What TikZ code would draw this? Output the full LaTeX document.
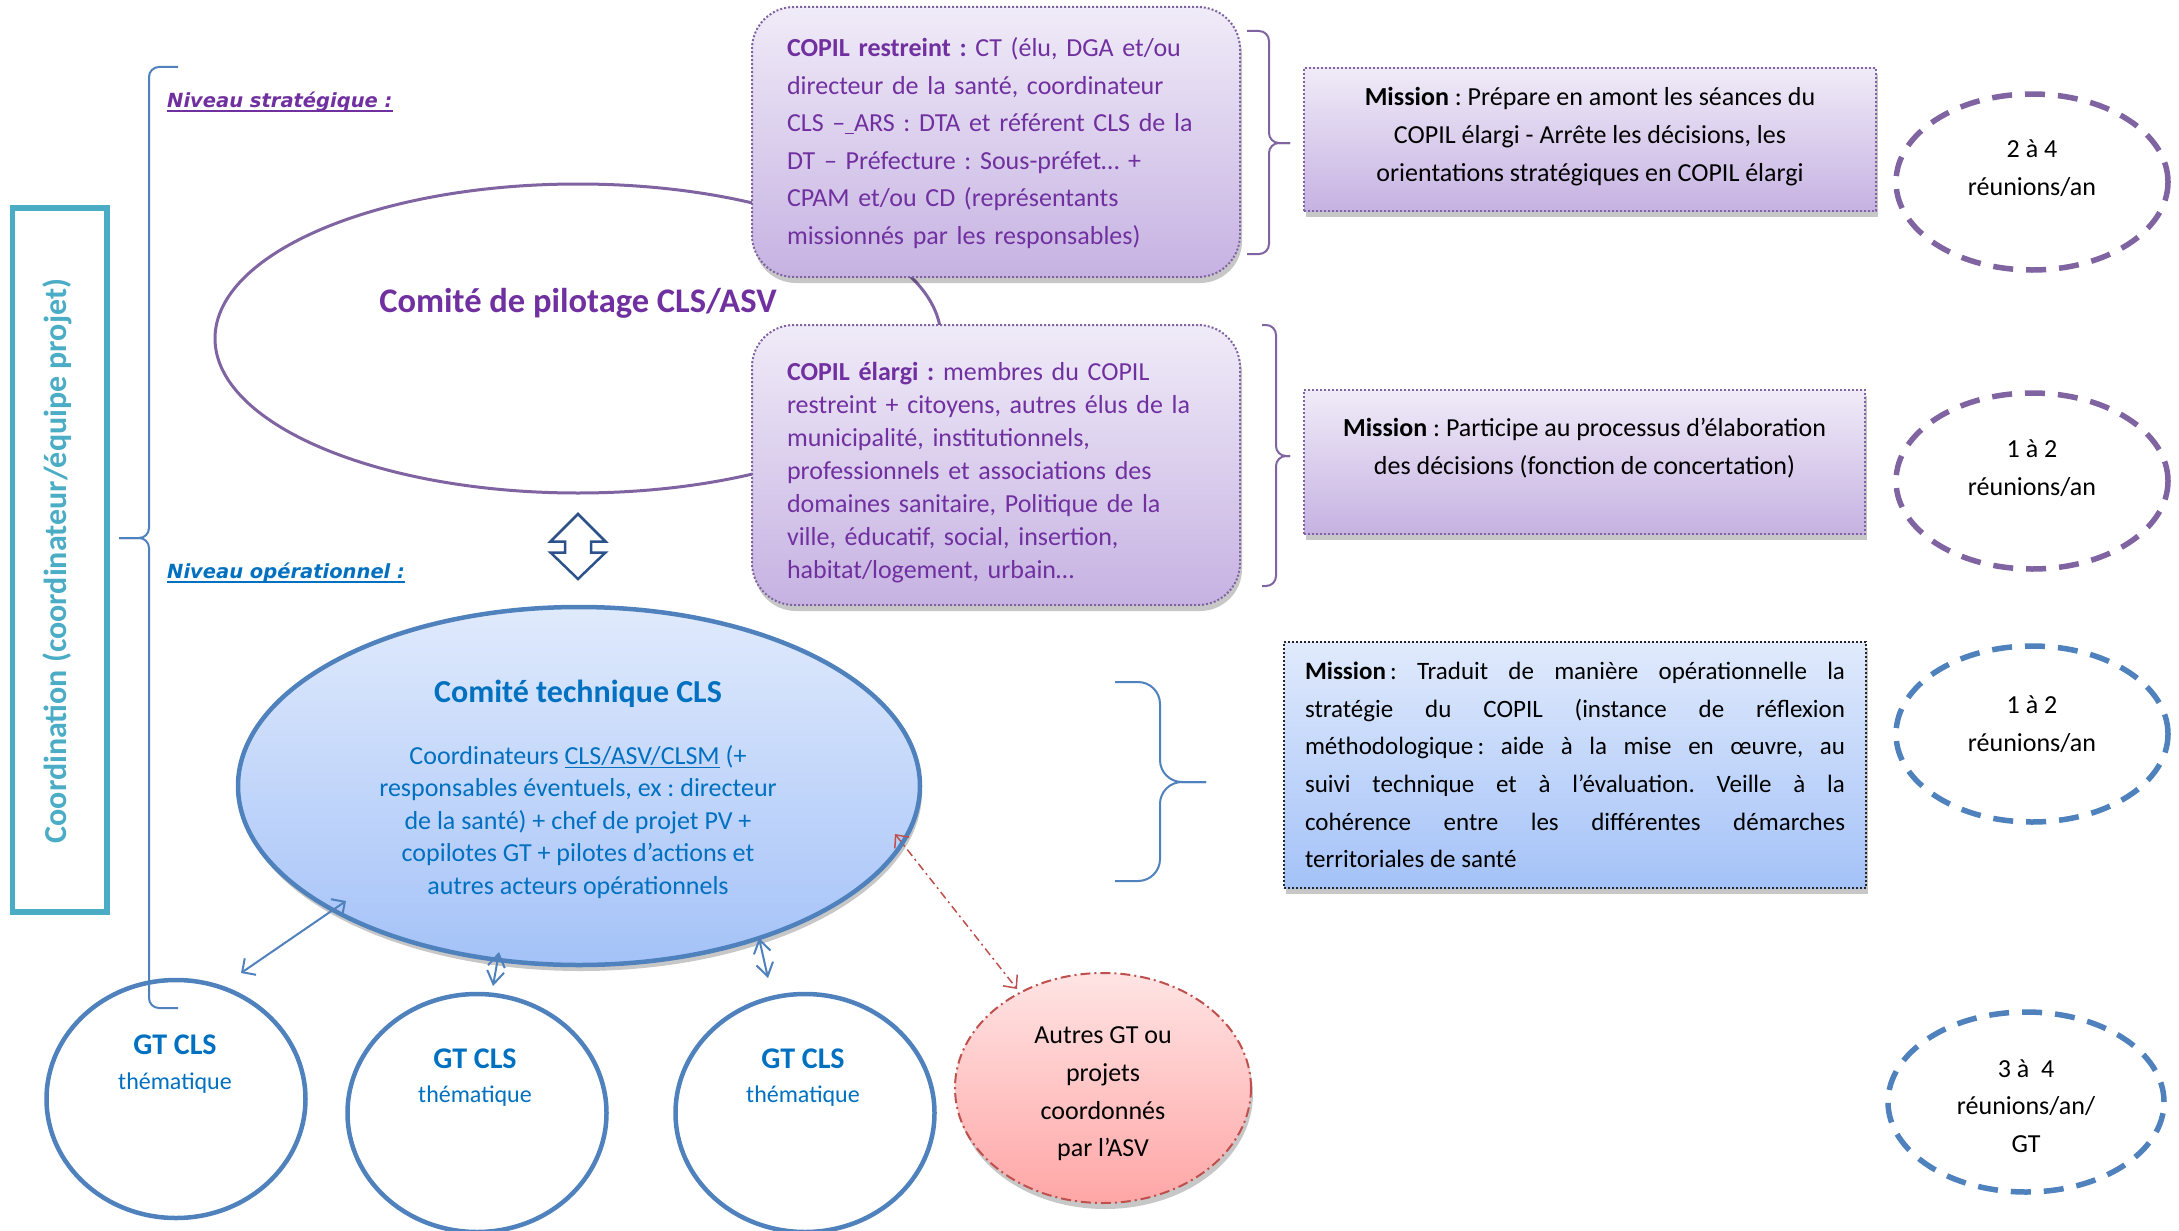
\documentclass[tikz,border=0pt]{standalone}
\usepackage{fontspec}
\setmainfont{Carlito}
\newfontfamily\verd{DejaVu Sans}
\usetikzlibrary{shapes.geometric,arrows.meta,shadows,calc}
\definecolor{ptxt}{HTML}{7030A0}
\definecolor{pline}{HTML}{8064A2}
\definecolor{bline}{HTML}{4F81BD}
\definecolor{udline}{RGB}{44,82,140}
\definecolor{btxt}{HTML}{0070C0}
\definecolor{coordteal}{HTML}{4BACC6}
\definecolor{rline}{HTML}{C0504D}
\definecolor{lavtop}{RGB}{240,235,248}
\definecolor{lavbot}{RGB}{198,178,226}
\definecolor{bluetop}{RGB}{224,234,252}
\definecolor{bluebot}{RGB}{164,194,248}
\definecolor{pinktop}{RGB}{255,228,228}
\definecolor{pinkbot}{RGB}{255,166,166}
\frenchspacing
\tikzset{
  shadowed/.style={drop shadow={shadow xshift=2pt,shadow yshift=-6pt,opacity=0.22,fill=black}},
  copbox/.style={rectangle, rounded corners=42pt, draw=pline, line width=2pt,
    dash pattern=on 2pt off 2pt, top color=lavtop, bottom color=lavbot, shadowed,
    inner sep=0pt, minimum width=488pt},
  coptxt/.style={text=ptxt, align=left, text width=418pt, inner sep=0pt,
    font=\fontsize{26pt}{37.5pt}\selectfont},
  misbox/.style={rectangle, draw=pline, line width=2pt, dash pattern=on 2pt off 2pt,
    top color=lavtop, bottom color=lavbot, shadowed, inner sep=0pt},
  mistxt/.style={align=center, inner sep=0pt, font=\fontsize{26pt}{38pt}\selectfont},
  freq/.style={ellipse, line width=5.5pt, dash pattern=on 20pt off 13pt, inner sep=0pt,
    minimum width=272pt, minimum height=176pt},
  freqtxt/.style={align=center, font=\fontsize{26pt}{37.5pt}\selectfont},
  gt/.style={ellipse, draw=bline, line width=4.5pt, inner sep=0pt, minimum width=259pt, minimum height=238pt},
  gttitle/.style={text=btxt, font=\fontsize{30pt}{36pt}\selectfont\bfseries},
  gtsub/.style={text=btxt, font=\fontsize{24pt}{30pt}\selectfont},
  brace/.style={line width=2pt, rounded corners=10pt},
  bidir/.style={bline, line width=2pt, {Straight Barb[length=10pt,width=20pt]}-{Straight Barb[length=10pt,width=20pt]}},
  bidirs/.style={bline, line width=2pt, {Straight Barb[length=13pt,width=17pt]}-{Straight Barb[length=13pt,width=17pt]}},
  niv/.style={inner sep=0pt, anchor=base west, font=\verd\bfseries\itshape\fontsize{19.5pt}{24pt}\selectfont}
}
\begin{document}
\begin{tikzpicture}[x=1pt,y=-1pt]
\useasboundingbox[fill=white] (0,0) rectangle (2179,1231);

% coordination box
\draw[coordteal, line width=5.5pt] (12.5,208) rectangle (107,912);
\node[rotate=90, text=coordteal, font=\fontsize{32pt}{36pt}\selectfont\bfseries] (coord) at (57,561) {Coordination (coordinateur/équipe projet)};

% left brace
\draw[bline, brace] (178,67) -- (149,67) -- (149,538) -- (119,538);
\draw[bline, brace] (119,538) -- (149,538) -- (149,1008) -- (178,1008);

% level labels
\node[niv, text=ptxt] (nivS) at (167,107) {Niveau stratégique :};
\draw[ptxt, line width=1.8pt] ($(nivS.base west)+(0,4)$) -- ($(nivS.base east)+(0,4)$);
\node[niv, text=btxt] (nivO) at (167,578) {Niveau opérationnel :};
\draw[btxt, line width=1.8pt] ($(nivO.base west)+(0,4)$) -- ($(nivO.base east)+(0,4)$);

% comite de pilotage
\node[ellipse, draw=pline, line width=3pt, inner sep=0pt, minimum width=726pt, minimum height=309pt] (copil) at (578,338.5) {};
\node[text=ptxt, font=\fontsize{34.5pt}{40pt}\selectfont\bfseries] (copilT) at (578,303) {Comité de pilotage CLS/ASV};

% COPIL boxes
\node[copbox, minimum height=270pt] (restr) at (996,142) {};
\node[coptxt] (restrT) at (996,143)
 {\textbf{COPIL restreint :} CT (élu, DGA et/ou\\
 directeur de la santé, coordinateur\\
 CLS –\underline{\ }ARS : DTA et référent CLS de la\\
 DT – Préfecture : Sous-préfet… +\\
 CPAM et/ou CD (représentants\\
 missionnés par les responsables)};
\node[copbox, minimum height=280pt] (elarg) at (996,465) {};
\node[coptxt, font=\fontsize{26pt}{33pt}\selectfont] (elargT) at (996,473)
 {\textbf{COPIL élargi :} membres du COPIL\\
 restreint + citoyens, autres élus de la\\
 municipalité, institutionnels,\\
 professionnels et associations des\\
 domaines sanitaire, Politique de la\\
 ville, éducatif, social, insertion,\\
 habitat/logement, urbain…};

% right braces
\draw[pline, brace] (1247,31) -- (1269,31) -- (1269,143) -- (1290,143);
\draw[pline, brace] (1290,143) -- (1269,143) -- (1269,254) -- (1247,254);
\draw[pline, brace] (1262,325) -- (1276,325) -- (1276,456) -- (1290,456);
\draw[pline, brace] (1290,456) -- (1276,456) -- (1276,586) -- (1262,586);
\draw[bline, brace, rounded corners=22pt] (1115,682) -- (1160,682) -- (1160,782) -- (1206,782);
\draw[bline, brace, rounded corners=22pt] (1206,782) -- (1160,782) -- (1160,881) -- (1115,881);

% mission boxes
\node[misbox, minimum width=572pt, minimum height=143pt] (mis1) at (1590,139.5) {};
\node[mistxt] (mis1T) at (1590,137)
 {\textbf{Mission} : Prépare en amont les séances du\\
 COPIL élargi - Arrête les décisions, les\\
 orientations stratégiques en COPIL élargi};
\node[misbox, minimum width=561pt, minimum height=144pt] (mis2) at (1584.5,462) {};
\node[mistxt] (mis2T) at (1584.5,448)
 {\textbf{Mission} : Participe au processus d’élaboration\\
 des décisions (fonction de concertation)};
\node[rectangle, draw=black!85, line width=2pt, dash pattern=on 2pt off 2pt,
  top color=bluetop, bottom color=bluebot, shadowed, align=left,
  minimum width=582pt, minimum height=246pt, inner xsep=21pt, inner ysep=0pt,
  font=\fontsize{25pt}{37.6pt}\selectfont] (mis3) at (1575,765)
 {\makebox[540pt][s]{\textbf{Mission}\,: Traduit de manière opérationnelle la}\\
  \makebox[540pt][s]{stratégie du COPIL (instance de réflexion}\\
  \makebox[540pt][s]{méthodologique\,: aide à la mise en œuvre, au}\\
  \makebox[540pt][s]{suivi technique et à l’évaluation. Veille à la}\\
  \makebox[540pt][s]{cohérence entre les différentes démarches}\\
  \makebox[540pt][l]{territoriales de santé}};

% frequency ellipses
\node[freq, draw=pline] (f1) at (2032,182) {};
\node[freqtxt] (f1t) at (2032,168) {2 à 4\\réunions/an};
\node[freq, draw=pline] (f2) at (2032,481) {};
\node[freqtxt] (f2t) at (2032,468) {1 à 2\\réunions/an};
\node[freq, draw=bline] (f3) at (2032,734) {};
\node[freqtxt] (f3t) at (2032,724) {1 à 2\\réunions/an};
\node[freq, draw=bline, minimum width=276pt, minimum height=180pt] (f4) at (2026,1102) {};
\node[freqtxt] (f4t) at (2026,1106) {3 à~~4\\réunions/an/\\GT};

% up-down block arrow
\coordinate (ud) at (578,547);
\draw[udline, line width=2.5pt, fill=white, line join=miter]
  ($(ud)+(0,-33)$) -- ($(ud)+(27.5,-5.5)$) -- ($(ud)+(13,-5.5)$) -- ($(ud)+(13,5.5)$) -- ($(ud)+(27.5,5.5)$)
  -- ($(ud)+(0,32)$) -- ($(ud)+(-27.5,5.5)$) -- ($(ud)+(-13,5.5)$) -- ($(ud)+(-13,-5.5)$) -- ($(ud)+(-27.5,-5.5)$) -- cycle;

% comite technique
\node[ellipse, draw=bline, line width=4.5pt, top color=bluetop, bottom color=bluebot, shadowed,
  inner sep=0pt, minimum width=682pt, minimum height=358pt] (ct) at (579,786) {};
\node[text=btxt, font=\fontsize{32pt}{38pt}\selectfont\bfseries] (ctT) at (578,694) {Comité technique CLS};
\node[text=btxt, align=center, font=\fontsize{26pt}{32.5pt}\selectfont] (ctB) at (578,822)
 {Coordinateurs \underline{CLS/ASV/CLSM} (+\\
  responsables éventuels, ex : directeur\\
  de la santé) + chef de projet PV +\\
  copilotes GT + pilotes d’actions et\\
  autres acteurs opérationnels};

% GT circles
\node[gt] (gt1) at (176,1099) {};
\node[gt] (gt2) at (477,1113) {};
\node[gt] (gt3) at (805,1113) {};
\node[gttitle] (gt1a) at (175,1045) {GT CLS};
\node[gtsub] (gt1b) at (175,1083) {thématique};
\node[gttitle] (gt2a) at (475,1059) {GT CLS};
\node[gtsub] (gt2b) at (475,1096) {thématique};
\node[gttitle] (gt3a) at (803,1059) {GT CLS};
\node[gtsub] (gt3b) at (803,1096) {thématique};

% autres GT
\node[ellipse, draw=rline, line width=2pt, dash pattern=on 10pt off 4pt on 2pt off 4pt,
  top color=pinktop, bottom color=pinkbot, shadowed, inner sep=0pt,
  minimum width=296pt, minimum height=230pt] (autres) at (1103,1088) {};
\node[align=center, font=\fontsize{26pt}{37.7pt}\selectfont] (autresT) at (1103,1094)
 {Autres GT ou\\projets\\coordonnés\\par l’ASV};

% connectors
\draw[bidir] ($(gt1.center)+(65,-126)$) -- ($(ct.center)+(-233,115)$);
\draw[bidirs] ($(gt2.center)+(16,-127)$) -- ($(ct.center)+(-80,166)$);
\draw[bidirs] ($(gt3.center)+(-37,-135)$) -- ($(ct.center)+(180,152)$);
\draw[rline, line width=1.5pt, dash pattern=on 8pt off 4pt on 2pt off 4pt,
  {Straight Barb[length=10pt,width=18pt]}-{Straight Barb[length=10pt,width=18pt]}]
  ($(ct.center)+(316,48)$) -- ($(autres.center)+(-86,-99)$);
\end{tikzpicture}
\end{document}
